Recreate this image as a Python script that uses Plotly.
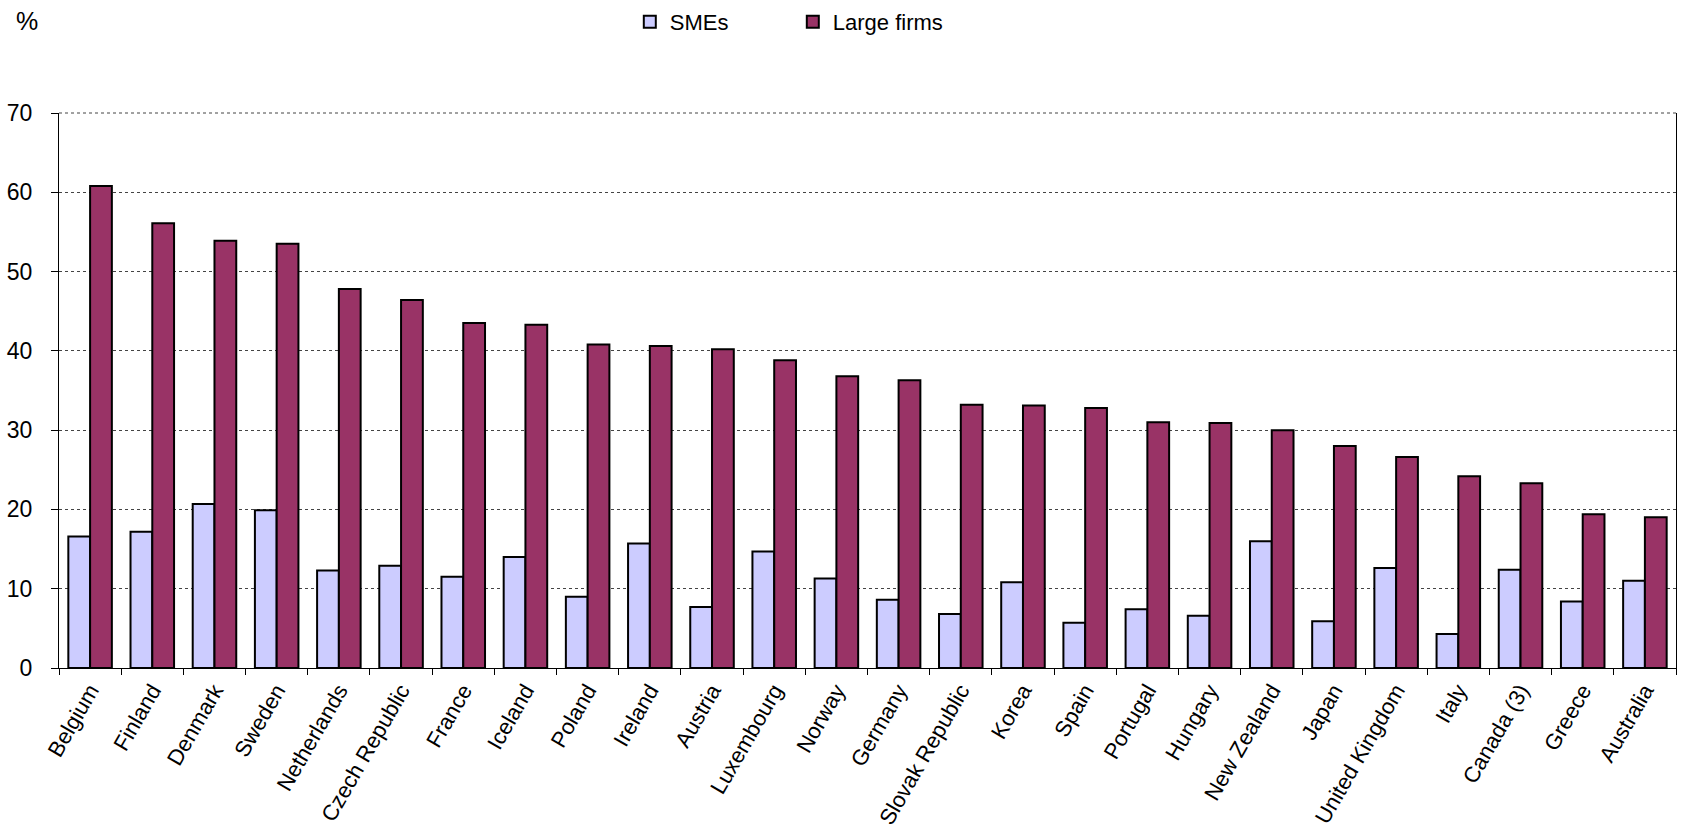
import plotly.graph_objects as go

countries = ["Belgium", "Finland", "Denmark", "Sweden", "Netherlands", "Czech Republic",
             "France", "Iceland", "Poland", "Ireland", "Austria", "Luxembourg", "Norway",
             "Germany", "Slovak Republic", "Korea", "Spain", "Portugal", "Hungary",
             "New Zealand", "Japan", "United Kingdom", "Italy", "Canada (3)", "Greece", "Australia"]
smes = [16.6, 17.2, 20.7, 19.9, 12.3, 12.9, 11.5, 14.0, 9.0, 15.7, 7.7, 14.7, 11.3,
        8.6, 6.8, 10.8, 5.7, 7.4, 6.6, 16.0, 5.9, 12.6, 4.3, 12.4, 8.4, 11.0]
large = [60.8, 56.1, 53.9, 53.5, 47.8, 46.4, 43.5, 43.3, 40.8, 40.6, 40.2, 38.8, 36.8,
         36.3, 33.2, 33.1, 32.8, 31.0, 30.9, 30.0, 28.0, 26.6, 24.2, 23.3, 19.4, 19.0]

FONT = "Arial, Liberation Sans, sans-serif"

fig = go.Figure()
fig.add_trace(go.Bar(x=countries, y=smes, name="SMEs",
                     marker=dict(color="#CCCCFF", line=dict(color="black", width=2))))
fig.add_trace(go.Bar(x=countries, y=large, name="Large firms",
                     marker=dict(color="#993366", line=dict(color="black", width=2))))

fig.update_layout(
    width=1681, height=834,
    margin=dict(l=59, r=5, t=113, b=166, autoexpand=False),
    paper_bgcolor="white", plot_bgcolor="white",
    font=dict(family=FONT, size=23, color="black"),
    barmode="group", bargap=0.3, bargroupgap=0,
    showlegend=True,
    legend=dict(orientation="h", x=0.353, xanchor="left", y=1.164, yanchor="middle",
                font=dict(size=22), entrywidth=118, entrywidthmode="pixels",
                bgcolor="rgba(0,0,0,0)"),
    annotations=[dict(text="%", xref="paper", yref="paper", x=-0.0198, y=1.166,
                      xanchor="center", yanchor="middle", showarrow=False,
                      font=dict(size=25))],
    shapes=[dict(type="line", xref="paper", yref="paper", x0=0, x1=1, y0=1, y1=1,
                 line=dict(color="#444444", width=1, dash="dot"))],
)
fig.update_xaxes(showline=True, linecolor="black", linewidth=1, automargin=False,
                 ticks="outside", tickson="boundaries", ticklen=6, tickcolor="black",
                 tickangle=-60, tickfont=dict(size=22), showgrid=False)
fig.update_yaxes(range=[0, 70], tickvals=[0, 10, 20, 30, 40, 50, 60, 70],
                 showline=True, linecolor="black", linewidth=1, automargin=False,
                 mirror=True, ticks="outside", ticklen=7, tickcolor="black",
                 ticklabelstandoff=14, tickfont=dict(size=23),
                 showgrid=True, gridcolor="#444444", griddash="dot", gridwidth=1,
                 zeroline=False)

fig.write_html("out.html")
